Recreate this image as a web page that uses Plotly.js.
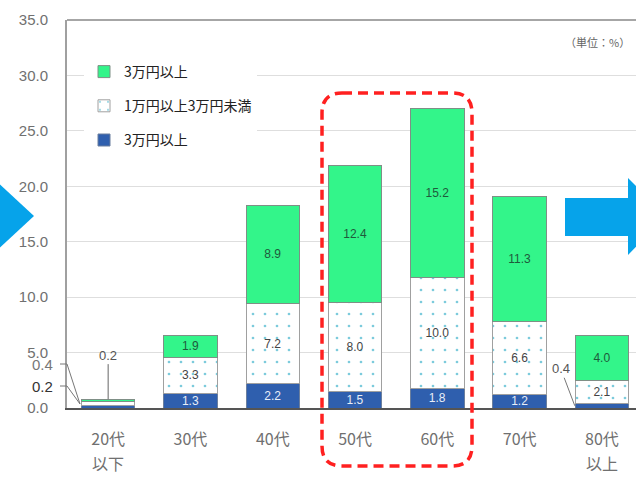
<!DOCTYPE html>
<html>
<head>
<meta charset="utf-8">
<script src="https://cdn.plot.ly/plotly-3.0.1.min.js"></script>
<style>html,body{margin:0;padding:0;overflow:hidden;background:#fff}</style>
</head>
<body>
<div id="chart" style="width:636px;height:480px"></div>
<script>
// ---- data ----
const categories = ['20代', '30代', '40代', '50代', '60代', '70代', '80代'];
const subLabels  = ['以下', '', '', '', '', '', '以上'];
const seriesNames = ['3万円以上', '1万円以上3万円未満', '3万円以上']; // bottom, middle, top (as printed)
const blueVals  = [0.2, 1.3, 2.2, 1.5, 1.8, 1.2, 0.4];
const dotVals   = [0.4, 3.3, 7.2, 8.0, 10.0, 6.6, 2.1];
const greenVals = [0.2, 1.9, 8.9, 12.4, 15.2, 11.3, 4.0];
const yTicks = [0, 5, 10, 15, 20, 25, 30, 35];
const unitText = '（単位：%）';

// ---- helpers (pixel -> paper, for decorations only) ----
const L = 67, T = 20, W = 569, H = 388;
const X = px => (px - L) / W;
const Y = py => (T + H - py) / H;
const lbl = v => v < 1 ? '' : v.toFixed(1);

const common = {
  x: categories, type: 'bar', width: 0.65,
  textposition: 'inside', insidetextanchor: 'middle', textangle: 0,
  hoverinfo: 'skip', cliponaxis: false
};

const traces = [
  Object.assign({}, common, {
    name: seriesNames[0], y: blueVals, text: blueVals.map(lbl), legendgroup: 'a', legendrank: 3,
    marker: {color: '#2f5fae', line: {color: '#6b7f9e', width: 1}},
    textfont: {family: 'Liberation Sans', size: 12, color: '#e8eef8'}
  }),
  Object.assign({}, common, {
    name: seriesNames[1], y: dotVals, text: dotVals.map(lbl), legendgroup: 'b', legendrank: 2,
    marker: {color: '#ffffff', line: {color: '#a0a0a0', width: 1},
      pattern: {shape: '.', fgcolor: '#7ccbdc', bgcolor: '#ffffff', size: 12, solidity: 0.04}},
    textfont: {family: 'Liberation Sans', size: 12, color: '#444444'}
  }),
  Object.assign({}, common, {
    name: seriesNames[2], y: greenVals, text: greenVals.map(lbl), legendgroup: 'c', legendrank: 1,
    marker: {color: '#33f58a', line: {color: '#7f8f86', width: 1}},
    textfont: {family: 'Liberation Sans', size: 12, color: '#1f5a3c'}
  })
];

const total0 = blueVals[0] + dotVals[0] + greenVals[0];
const annFont = {family: 'Liberation Sans', size: 13, color: '#555555'};

const annotations = [
  {xref: 'paper', yref: 'paper', x: X(632), y: Y(42), xanchor: 'right', yanchor: 'middle',
   text: unitText, showarrow: false, font: {family: 'Noto Sans CJK JP', size: 11, color: '#666666'}},
  // 20代 top label
  {x: 0, y: total0, text: greenVals[0].toFixed(1), showarrow: true, arrowhead: 0, arrowwidth: 1,
   arrowcolor: '#666666', ax: 0, ay: -44, font: annFont},
  // 20代 left labels
  {xref: 'paper', yref: 'paper', x: X(55), y: Y(364), xanchor: 'right', yanchor: 'middle',
   text: dotVals[0].toFixed(1), showarrow: false, font: {family: 'Liberation Sans', size: 15, color: '#777777'}},
  {xref: 'paper', yref: 'paper', x: X(55), y: Y(386), xanchor: 'right', yanchor: 'middle',
   text: blueVals[0].toFixed(1), showarrow: false, font: {family: 'Liberation Sans', size: 15, color: '#333333'}},
  // 80代 blue label
  {x: 5.67, y: blueVals[6] / 2, text: blueVals[6].toFixed(1), showarrow: true, arrowhead: 0, arrowwidth: 1,
   arrowcolor: '#777777', ax: -14, ay: -37, font: annFont}
];
// second line of category labels
subLabels.forEach((s, i) => {
  if (s) annotations.push({x: categories[i], xref: 'x', yref: 'paper', y: Y(463), yanchor: 'middle',
    text: s, showarrow: false, font: {family: 'Noto Sans CJK JP', size: 16, color: '#707070'}});
});

const rr = 20, bx0 = 322, bx1 = 472, by0 = 93, by1 = 466;
const roundRect =
  `M ${X(bx0 + rr)},${Y(by0)} L ${X(bx1 - rr)},${Y(by0)} Q ${X(bx1)},${Y(by0)} ${X(bx1)},${Y(by0 + rr)} ` +
  `L ${X(bx1)},${Y(by1 - rr)} Q ${X(bx1)},${Y(by1)} ${X(bx1 - rr)},${Y(by1)} ` +
  `L ${X(bx0 + rr)},${Y(by1)} Q ${X(bx0)},${Y(by1)} ${X(bx0)},${Y(by1 - rr)} ` +
  `L ${X(bx0)},${Y(by0 + rr)} Q ${X(bx0)},${Y(by0)} ${X(bx0 + rr)},${Y(by0)} Z`;

const rightArrow =
  `M ${X(565)},${Y(198)} L ${X(628)},${Y(198)} L ${X(628)},${Y(178)} L ${X(666)},${Y(216)} ` +
  `L ${X(628)},${Y(255)} L ${X(628)},${Y(236)} L ${X(565)},${Y(236)} Z`;
const leftArrow = `M ${X(-5)},${Y(180)} L ${X(34)},${Y(216)} L ${X(-5)},${Y(252)} Z`;

const shapes = [
  {type: 'line', xref: 'paper', yref: 'paper', x0: 0, x1: 1.02, y0: 1, y1: 1,
   line: {color: '#a6a6a6', width: 2}},
  {type: 'path', xref: 'paper', yref: 'paper', path: roundRect,
   line: {color: '#ff2020', width: 3.5, dash: '10px,6px'}, fillcolor: 'rgba(0,0,0,0)'},
  {type: 'path', xref: 'paper', yref: 'paper', path: rightArrow, fillcolor: '#06a3ea', line: {width: 0}},
  {type: 'path', xref: 'paper', yref: 'paper', path: leftArrow, fillcolor: '#06a3ea', line: {width: 0}},
  // leader lines for 20代 small values
  {type: 'path', xref: 'paper', yref: 'paper',
   path: `M ${X(60)},${Y(364)} L ${X(67)},${Y(364)} L ${X(80)},${Y(404)}`, line: {color: '#777777', width: 1}},
  {type: 'path', xref: 'paper', yref: 'paper',
   path: `M ${X(60)},${Y(386)} L ${X(67)},${Y(386)} L ${X(80)},${Y(404)}`, line: {color: '#777777', width: 1}}
];

const layout = {
  width: 636, height: 480, autosize: false,
  margin: {l: L, r: 636 - L - W, t: T, b: 480 - T - H, pad: 0},
  paper_bgcolor: '#ffffff', plot_bgcolor: '#ffffff',
  barmode: 'stack', bargap: 0.35,
  showlegend: true,
  legend: {x: X(84), y: Y(56), xanchor: 'left', yanchor: 'top', bgcolor: '#ffffff',
    traceorder: 'grouped', tracegroupgap: 13,
    font: {family: 'Noto Sans CJK JP', size: 14, color: '#222222'}},
  uniformtext: {mode: 'show', minsize: 12},
  xaxis: {type: 'category', range: [-0.5, -0.5 + W / 82.3], showgrid: false, zeroline: false,
    showline: true, linecolor: '#555555', linewidth: 2, ticks: '', ticklabelstandoff: 16,
    tickfont: {family: 'Noto Sans CJK JP', size: 16, color: '#707070'}, fixedrange: true},
  yaxis: {range: [0, 35], tickvals: yTicks, tickformat: '.1f', showgrid: true, gridcolor: '#dedede',
    gridwidth: 1, zeroline: false, showline: true, linecolor: '#a0a0a0', linewidth: 2, ticks: '',
    ticklabelstandoff: 14, tickfont: {family: 'Liberation Sans', size: 15, color: '#707070'}, fixedrange: true},
  annotations: annotations,
  shapes: shapes
};

Plotly.newPlot('chart', traces, layout, {staticPlot: true, displayModeBar: false});
</script>
</body>
</html>
